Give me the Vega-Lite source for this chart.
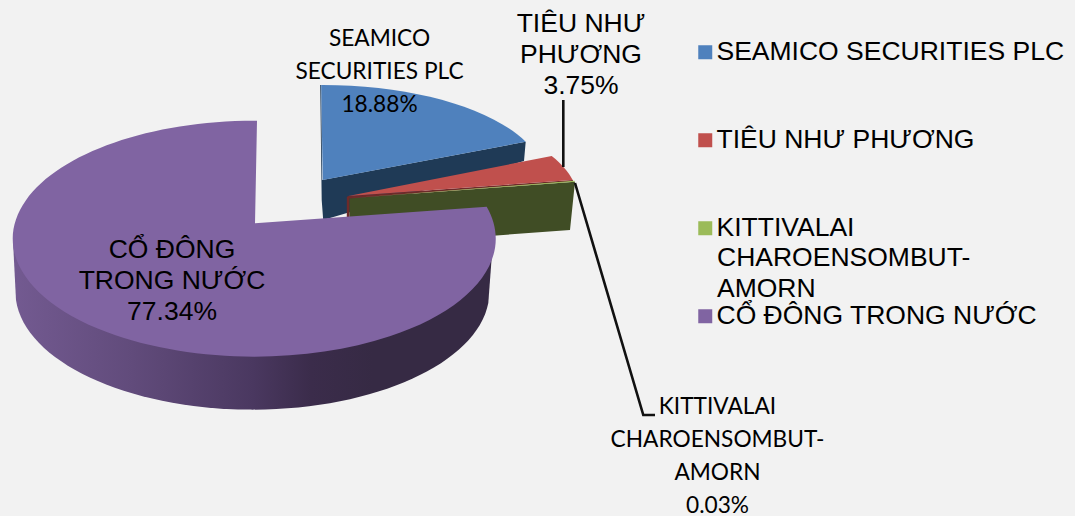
{
"$schema":"https://vega.github.io/schema/vega-lite/v6.json",
"width":1075,"height":516,"padding":0,"autosize":{"type":"none"},
"background":"#f2f2f2",
"config":{"view":{"stroke":null}},
"datasets":{
"tops":[
{"name":"SEAMICO SECURITIES PLC","share":18.88,"x":322.7,"y":180},
{"name":"KITTIVALAI CHAROENSOMBUT-AMORN","share":0.03,"x":349.3,"y":198.3},
{"name":"TIÊU NHƯ PHƯƠNG","share":3.75,"x":348.3,"y":196},
{"name":"CỔ ĐÔNG TRONG NƯỚC","share":77.34,"x":255,"y":223.3}
],
"walls":[
{"name":"SEAMICO SECURITIES PLC","x":322.7,"y":180},
{"name":"KITTIVALAI CHAROENSOMBUT-AMORN","x":349.3,"y":198.3},
{"name":"TIÊU NHƯ PHƯƠNG","x":348.3,"y":196}
],
"arialLabels":[
{"label":"TIÊU NHƯ\nPHƯƠNG\n3.75%","x":581,"y":24},
{"label":"CỔ ĐÔNG\nTRONG NƯỚC\n77.34%","x":172,"y":250}
],
"latoLabels":[
{"label":"SEAMICO\nSECURITIES PLC\n18.88%","x":379.5,"y":39},
{"label":"KITTIVALAI\nCHAROENSOMBUT-\nAMORN\n0.03%","x":717.5,"y":407}
],
"leaders":[
{"leader":"TIÊU NHƯ PHƯƠNG","step":1,"x":563.3,"y":100},
{"leader":"TIÊU NHƯ PHƯƠNG","step":2,"x":563.3,"y":167},
{"leader":"KITTIVALAI","step":1,"x":575,"y":183},
{"leader":"KITTIVALAI","step":2,"x":643.3,"y":415},
{"leader":"KITTIVALAI","step":3,"x":655,"y":415}
]
},
"encoding":{
"x":{"field":"x","type":"quantitative","scale":{"domain":[0,1075]},"axis":null},
"y":{"field":"y","type":"quantitative","scale":{"domain":[516,0]},"axis":null}
},
"layer":[
{"data":{"values":[{"name":"CỔ ĐÔNG TRONG NƯỚC","x":255,"y":223.3}]},
 "mark":{"type":"point","filled":true,"opacity":1,"size":4,
  "shape":"M-242 18 L-239 76.7 A237 118 0 0 0 233.3 79.7 L238 16.7 Z",
  "fill":{"gradient":"linear","x1":0,"y1":0,"x2":1,"y2":0,"stops":[
   {"offset":0,"color":"#735a91"},{"offset":0.25,"color":"#614b7b"},{"offset":0.5,"color":"#4a3860"},{"offset":0.62,"color":"#3b2c4b"},{"offset":0.75,"color":"#362a44"},{"offset":1,"color":"#362a44"}]}}},
{"data":{"name":"walls"},
 "mark":{"type":"point","filled":true,"opacity":1,"size":4},
 "encoding":{
  "shape":{"field":"name","type":"nominal","legend":null,"scale":{
   "domain":["SEAMICO SECURITIES PLC","KITTIVALAI CHAROENSOMBUT-AMORN","TIÊU NHƯ PHƯƠNG"],
   "range":["M-2.5 -95 L-1.5 -95 L-0.5 0 L203 -38.3 L201.3 -19 L0.5 40 L-1 20 Z",
            "M0 0 L225.7 -16.6 L220.7 31.7 L143.7 37.4 L143 42 L0 45 Z",
            "M-1.5 1 L0 0 L224.4 -16 L225 -14.5 L1 2.5 L1 21 L-1.5 21 Z"]}},
  "fill":{"field":"name","type":"nominal","legend":null,"scale":{
   "domain":["SEAMICO SECURITIES PLC","KITTIVALAI CHAROENSOMBUT-AMORN","TIÊU NHƯ PHƯƠNG"],
   "range":["#1f3a56","#404d25","#6d2a2a"]}}
 }},
{"data":{"name":"tops"},
 "mark":{"type":"point","filled":true,"opacity":1,"size":4},
 "encoding":{
  "shape":{"field":"name","type":"nominal","legend":null,"scale":{
   "domain":["SEAMICO SECURITIES PLC","KITTIVALAI CHAROENSOMBUT-AMORN","TIÊU NHƯ PHƯƠNG","CỔ ĐÔNG TRONG NƯỚC"],
   "range":["M0 0 L-1.5 -95 A222 95 0 0 1 203 -38.3 Z",
            "M0 0 L225.7 -16.6 L225 -17.6 Z",
            "M0 0 L203.4 -40 A224 95 0 0 1 224.4 -16 Z",
            "M0 0 L2 -102.6 A241.5 118 0 1 0 231.7 -16.6 Z"]}},
  "color":{"field":"name","type":"nominal","scale":{
   "domain":["SEAMICO SECURITIES PLC","TIÊU NHƯ PHƯƠNG","KITTIVALAI CHAROENSOMBUT-AMORN","CỔ ĐÔNG TRONG NƯỚC"],
   "range":["#4f81bd","#c0504d","#9bbb59","#8064a2"]},
   "legend":{"orient":"none","legendX":692,"legendY":39,"title":null,"symbolType":"square","symbolSize":196,"symbolStrokeWidth":0,
    "labelFont":"Liberation Sans","labelFontSize":26.5,"labelColor":"#000000","labelOffset":-2,"labelLimit":400,"rowPadding":61,
    "labelExpr":"indexof(datum.label,'KITTIVALAI')==0 ? 'KITTIVALAI' : datum.label"}}
 }},
{"data":{"values":[{"label":"CHAROENSOMBUT-\nAMORN","x":717,"y":258}]},
 "mark":{"type":"text","font":"Liberation Sans","fontSize":26.5,"align":"left","baseline":"middle","lineBreak":"\n","lineHeight":30.5,"color":"#000000"},
 "encoding":{"text":{"field":"label","type":"nominal"}}},
{"data":{"name":"leaders"},
 "mark":{"type":"line","color":"#111111","strokeWidth":2.6,"interpolate":"linear"},
 "encoding":{"detail":{"field":"leader","type":"nominal"},"order":{"field":"step","type":"quantitative"}}},
{"data":{"name":"arialLabels"},
 "mark":{"type":"text","font":"Liberation Sans","fontSize":26.5,"align":"center","baseline":"middle","lineBreak":"\n","lineHeight":31,"color":"#000000"},
 "encoding":{"text":{"field":"label","type":"nominal"}}},
{"data":{"name":"latoLabels"},
 "mark":{"type":"text","font":"Lato","fontSize":22.7,"align":"center","baseline":"middle","lineBreak":"\n","lineHeight":33,"color":"#000000"},
 "encoding":{"text":{"field":"label","type":"nominal"}}}
],
"resolve":{"scale":{"shape":"independent","color":"independent","fill":"independent"}}
}
